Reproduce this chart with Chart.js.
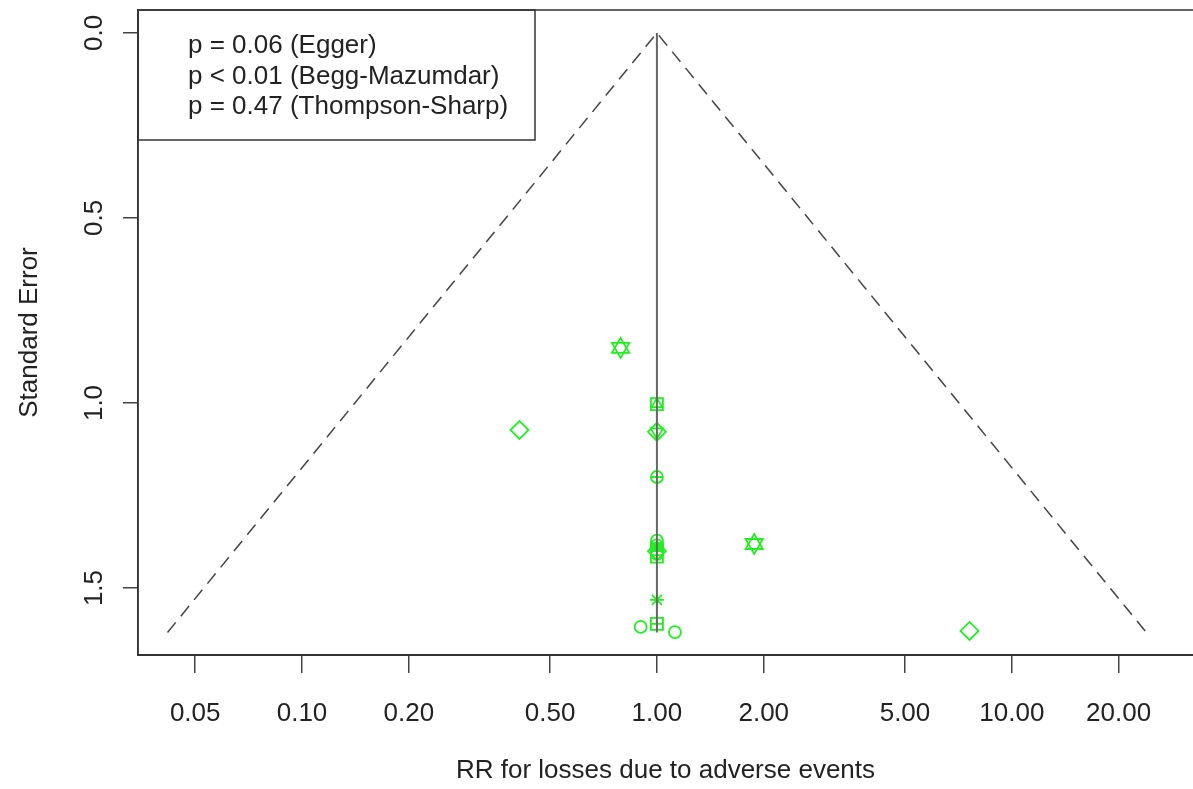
<!DOCTYPE html>
<html>
<head>
<meta charset="utf-8">
<script src="https://cdn.jsdelivr.net/npm/chart.js@4/dist/chart.umd.min.js"></script>
<style>
  html, body { margin: 0; padding: 0; background: #fff; }
  canvas { display: block; }
</style>
</head>
<body>
<canvas id="funnel" width="1193" height="789"></canvas>
<script>
/* axis ticks */
var xTicks = [0.05, 0.1, 0.2, 0.5, 1, 2, 5, 10, 20];
var xTickLabels = ['0.05', '0.10', '0.20', '0.50', '1.00', '2.00', '5.00', '10.00', '20.00'];
var yTicks = [0, 0.5, 1, 1.5];
var yTickLabels = ['0.0', '0.5', '1.0', '1.5'];

var xTitle = 'RR for losses due to adverse events';
var yTitle = 'Standard Error';
var testLines = ['p = 0.06 (Egger)', 'p < 0.01 (Begg-Mazumdar)', 'p = 0.47 (Thompson-Sharp)'];

/* funnel: pooled RR and the largest SE */
var pooledRR = 1.0;
var seMax = 1.62;

/* studies, grouped by plotting symbol (RR, SE) */
var starRR = [0.79, 1.88];            // triangles up + down
var starSE = [0.851, 1.381];
var sqTriRR = [1.0];                  // square with triangle
var sqTriSE = [1.003];
var diamondRR = [0.41, 1.0, 1.0, 7.6];
var diamondSE = [1.073, 1.078, 1.40, 1.616];
var diaTriRR = [1.0];                 // diamond with triangle down
var diaTriSE = [1.078];
var circlePlusRR = [1.0, 1.0];
var circlePlusSE = [1.2, 1.385];
var circleRR = [1.0, 1.0, 0.90, 1.124];
var circleSE = [1.372, 1.408, 1.605, 1.619];
var squareRR = [1.0, 1.0];
var squareSE = [1.395, 1.415];
var asteriskRR = [1.0, 1.0];
var asteriskSE = [1.39, 1.532];
var squarePlusRR = [1.0];
var squarePlusSE = [1.597];

var green = '#22ee22';
var fontFam = '"Liberation Sans", Arial, sans-serif';

function pts(xs, ys) {
	var out = [];
	for (var i = 0; i < xs.length; i++) {
		out.push({ x: xs[i], y: ys[i] });
	}
	return out;
}

function marker(xs, ys, style, r, rot) {
	return {
		type: 'scatter',
		data: pts(xs, ys),
		pointStyle: style,
		pointRadius: r,
		pointRotation: rot || 0,
		borderColor: green,
		backgroundColor: 'rgba(0,0,0,0)',
		borderWidth: 1.8
	};
}

var funnelData = [
	{ x: pooledRR * Math.exp(-1.96 * seMax), y: seMax },
	{ x: pooledRR, y: 0 },
	{ x: pooledRR * Math.exp(1.96 * seMax), y: seMax }
];

// box around the plot and the p-value box
var framePlugin = {
	id: 'frame',
	afterDraw: function(chart) {
		var ctx = chart.ctx;
		var a = chart.chartArea;
		ctx.save();
		ctx.strokeStyle = '#333';
		ctx.lineWidth = 1.5;
		ctx.beginPath();
		ctx.moveTo(a.left, a.bottom);
		ctx.lineTo(a.left, a.top);
		ctx.lineTo(a.right, a.top);
		ctx.stroke();

		ctx.strokeRect(a.left, a.top, 397, 130);
		ctx.fillStyle = '#222';
		ctx.font = '26px ' + fontFam;
		ctx.textBaseline = 'middle';
		ctx.textAlign = 'left';
		for (var i = 0; i < testLines.length; i++) {
			ctx.fillText(testLines[i], a.left + 50, a.top + 36 + i * 30.5);
		}
		ctx.restore();
	}
};

var datasets = [
	{
		type: 'line',
		data: funnelData,
		borderColor: '#444',
		borderWidth: 1.5,
		borderDash: [13, 8],
		pointRadius: 0,
		fill: false
	},
	{
		type: 'line',
		data: [{ x: pooledRR, y: 0 }, { x: pooledRR, y: seMax }],
		borderColor: '#666',
		borderWidth: 2,
		pointRadius: 0,
		fill: false
	},
	marker(starRR, starSE, 'triangle', 10, 0),
	marker(starRR, starSE, 'triangle', 10, 180),
	marker(sqTriRR, sqTriSE, 'rect', 8.5),
	marker(sqTriRR, sqTriSE, 'triangle', 6),
	marker(diamondRR, diamondSE, 'rectRot', 9),
	marker(diaTriRR, diaTriSE, 'triangle', 7, 180),
	marker(circlePlusRR, circlePlusSE, 'circle', 6),
	marker(circlePlusRR, circlePlusSE, 'cross', 6),
	marker(circleRR, circleSE, 'circle', 6),
	marker(squareRR, squareSE, 'rect', 8.5),
	marker(asteriskRR, asteriskSE, 'star', 7),
	marker(squarePlusRR, squarePlusSE, 'rect', 8.5),
	marker(squarePlusRR, squarePlusSE, 'cross', 6)
];

var ctx = document.getElementById('funnel').getContext('2d');
var chart = new Chart(ctx, {
	type: 'scatter',
	data: { datasets: datasets },
	plugins: [framePlugin],
	options: {
		responsive: false,
		animation: false,
		layout: { autoPadding: false, padding: { top: 10, right: 0, bottom: 0, left: 0 } },
		plugins: {
			legend: { display: false },
			tooltip: { enabled: false }
		},
		scales: {
			x: {
				type: 'logarithmic',
				position: 'bottom',
				min: 0.0345,
				max: 32.4,
				afterBuildTicks: function(s) {
					s.ticks = xTicks.map(function(v) { return { value: v }; });
				},
				afterFit: function(s) {
					s.height = 134;
					s.paddingLeft = 0;
					s.paddingRight = 0;
				},
				grid: { drawOnChartArea: false, tickLength: 18, color: '#444', lineWidth: 1.5 },
				border: { color: '#333', width: 2 },
				ticks: {
					autoSkip: false,
					minRotation: 0,
					maxRotation: 0,
					padding: 25,
					color: '#222',
					font: { size: 26, family: fontFam },
					callback: function(v, i) { return xTickLabels[i]; }
				},
				title: {
					display: true,
					text: xTitle,
					color: '#222',
					font: { size: 26, family: fontFam },
					padding: { top: 0, bottom: 3 }
				}
			},
			y: {
				type: 'linear',
				reverse: true,
				min: -0.062,
				max: 1.681,
				afterBuildTicks: function(s) {
					s.ticks = yTicks.map(function(v) { return { value: v }; });
				},
				afterFit: function(s) {
					s.width = 138;
					s.paddingTop = 0;
					s.paddingBottom = 0;
				},
				grid: { drawOnChartArea: false, tickLength: 15, color: '#444', lineWidth: 1.5 },
				border: { color: '#333', width: 1.5 },
				ticks: {
					minRotation: 90,
					maxRotation: 90,
					crossAlign: 'center',
					padding: 10,
					color: '#222',
					font: { size: 26, family: fontFam },
					callback: function(v, i) { return yTickLabels[i]; }
				},
				title: {
					display: true,
					text: yTitle,
					color: '#222',
					font: { size: 26, family: fontFam },
					padding: { top: 14, bottom: 0 }
				}
			}
		}
	}
});
</script>
</body>
</html>
